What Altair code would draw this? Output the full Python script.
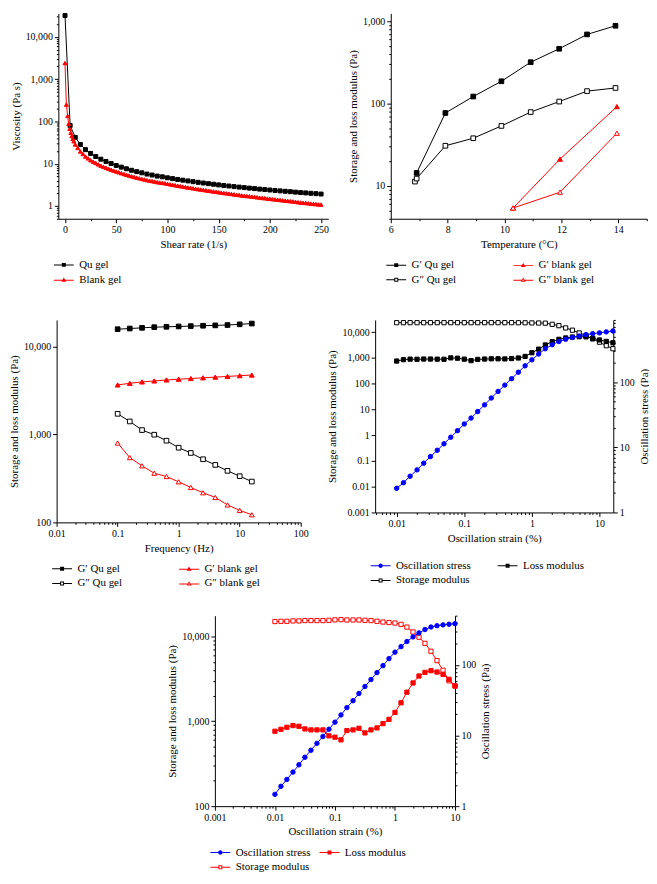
import altair as alt
import pandas as pd

FONT = "Liberation Serif"
BLACK = "#000000"
RED = "#ff0000"
BLUE = "#0000ff"

# ---------------- Panel A: viscosity vs shear rate ----------------
A_QU_RATE = [0, 5, 10, 15, 20, 25, 30, 35, 40, 45, 50, 55, 60, 65, 70, 75, 80, 85, 90, 95, 100,
             105, 110, 115, 120, 125, 130, 135, 140, 145, 150, 155, 160, 165, 170, 175, 180, 185,
             190, 195, 200, 205, 210, 215, 220, 225, 230, 235, 240, 245, 250]
A_QU_VISC = [32000, 80, 42, 28.5, 21.5, 17.5, 14.8, 12.8, 11.3, 10.1, 9.1, 8.3, 7.6, 7.0, 6.5, 6.1,
             5.7, 5.4, 5.1, 4.9, 4.65, 4.45, 4.25, 4.08, 3.92, 3.77, 3.63, 3.50, 3.38, 3.27, 3.16,
             3.06, 2.97, 2.88, 2.80, 2.72, 2.65, 2.58, 2.51, 2.45, 2.39, 2.33, 2.28, 2.23, 2.18,
             2.13, 2.08, 2.04, 2.00, 1.96, 1.92]
A_BLANK_RATE = [0, 1.3, 2.6, 3.6, 4.6, 5.6, 6.6, 7.6, 8.6, 10,
                12.5, 15, 17.5, 20, 22.5, 25, 27.5, 30, 32.5, 35, 37.5, 40, 42.5, 45, 47.5, 50,
                52.5, 55, 57.5, 60, 62.5, 65, 67.5, 70, 72.5, 75, 77.5, 80, 82.5, 85, 87.5, 90,
                92.5, 95, 97.5, 100, 102.5, 105, 107.5, 110, 112.5, 115, 117.5, 120, 122.5, 125,
                127.5, 130, 132.5, 135, 137.5, 140, 142.5, 145, 147.5, 150, 152.5, 155, 157.5, 160,
                162.5, 165, 167.5, 170, 172.5, 175, 177.5, 180, 182.5, 185, 187.5, 190, 192.5, 195,
                197.5, 200, 202.5, 205, 207.5, 210, 212.5, 215, 217.5, 220, 222.5, 225, 227.5, 230,
                232.5, 235, 237.5, 240, 242.5, 245, 247.5, 250]
A_BLANK_VISC = [2400, 250, 135, 88, 67, 54, 45, 39, 34, 28.6,
                23.6, 19.5, 17.0, 14.8, 13.4, 12.1, 11.2, 10.4, 9.65, 8.96, 8.48, 8.02, 7.61, 7.22,
                6.88, 6.55, 6.26, 5.98, 5.72, 5.47, 5.25, 5.04, 4.86, 4.68, 4.53, 4.39, 4.24, 4.10,
                3.99, 3.89, 3.78, 3.67, 3.60, 3.53, 3.44, 3.35, 3.26, 3.18, 3.10, 3.02, 2.95, 2.88,
                2.81, 2.74, 2.68, 2.62, 2.56, 2.50, 2.45, 2.40, 2.35, 2.30, 2.25, 2.21, 2.16, 2.12,
                2.07, 2.03, 1.99, 1.96, 1.92, 1.89, 1.85, 1.82, 1.78, 1.75, 1.72, 1.70, 1.67, 1.64,
                1.61, 1.58, 1.55, 1.53, 1.50, 1.48, 1.45, 1.43, 1.41, 1.39, 1.36, 1.34, 1.32, 1.30,
                1.28, 1.26, 1.23, 1.21, 1.19, 1.18, 1.16, 1.14, 1.12, 1.11, 1.09, 1.08]

# ---------------- Panel B: temperature sweep ----------------
B_GP_QU_T = [6.91, 7.92, 8.9, 9.89, 10.92, 11.92, 12.9, 13.9]
B_GP_QU = [14.4, 77, 122, 187, 319, 464, 693, 883]
B_GPP_QU_T = [6.85, 6.91, 7.92, 8.9, 9.89, 10.92, 11.92, 12.9, 13.9]
B_GPP_QU = [11.3, 12.3, 30.8, 38, 53.6, 79, 106, 142, 155]
B_BLANK_T = [10.3, 11.95, 13.95]
B_GP_BLANK = [5.4, 21.2, 92]
B_GPP_BLANK = [5.4, 8.4, 43.7]

# ---------------- Panel C: frequency sweep ----------------
C_FREQ = [0.1, 0.158, 0.251, 0.398, 0.631, 1, 1.58, 2.51, 3.98, 6.31, 10, 15.8]
C_GP_QU = [15700, 15980, 16270, 16560, 16720, 16870, 17030, 17190, 17350, 17510, 17840, 18200]
C_GP_BLANK = [3650, 3810, 3950, 4050, 4160, 4240, 4320, 4400, 4480, 4560, 4650, 4730]
C_GPP_QU = [1714, 1404, 1120, 992, 848, 706, 615, 522, 450, 385, 335, 291]
C_GPP_BLANK = [798, 545, 439, 362, 332, 289, 249, 217, 192, 158, 137, 122]

# ---------------- Panel D: amplitude sweep, Qu gel ----------------
D_STRAIN = [0.01, 0.0126, 0.0158, 0.02, 0.0251, 0.0316, 0.0398, 0.0501, 0.0631, 0.0794, 0.1,
            0.126, 0.158, 0.2, 0.251, 0.316, 0.398, 0.501, 0.631, 0.794, 1, 1.26, 1.58, 2, 2.51,
            3.16, 3.98, 5.01, 6.31, 7.94, 10, 12.6, 15.8]
D_STRESS = [2.35, 2.86, 3.6, 4.5, 5.7, 7.2, 9.0, 11.3, 14.3, 18.0, 22.8, 28.1, 35.4, 44.8, 57, 72,
            90, 113, 142, 178, 220, 270, 325, 375, 420, 455, 485, 510, 535, 555, 570, 590, 610]
D_STORAGE = [23500, 23500, 23500, 23500, 23500, 23500, 23500, 23500, 23500, 23500, 23500, 23500,
             23500, 23500, 23500, 23500, 23500, 23500, 23400, 23300, 23000, 22800, 22500, 20300,
             18000, 14700, 12000, 9400, 7500, 5500, 4100, 3000, 2300]
D_LOSS = [760, 860, 900, 890, 910, 910, 900, 890, 1010, 980, 900, 790, 880, 910, 930, 930, 920,
          950, 1000, 1150, 1600, 2200, 3200, 4300, 5300, 6000, 6500, 6700, 6600, 5800, 5000, 4400,
          3900]

# ---------------- Panel E: amplitude sweep, blank gel ----------------
E_STRAIN = [0.01, 0.0126, 0.0158, 0.02, 0.0251, 0.0316, 0.0398, 0.0501, 0.0631, 0.0794, 0.1,
            0.126, 0.158, 0.2, 0.251, 0.316, 0.398, 0.501, 0.631, 0.794, 1, 1.26, 1.58, 2, 2.51,
            3.16, 3.98, 5.01, 6.31, 7.94, 10]
E_STRESS = [1.47, 1.91, 2.39, 3.04, 3.85, 4.93, 6.19, 7.76, 9.73, 12.3, 15.5, 19.6, 24.9, 31.2,
            39.5, 49.6, 62.2, 78.0, 97.9, 123, 152, 182, 215, 250, 285, 318, 345, 360, 370, 378, 385]
E_STORAGE = [15000, 15100, 15100, 15250, 15250, 15400, 15400, 15400, 15400, 15500, 15700, 15800,
             15650, 15650, 15650, 15500, 15400, 15100, 14800, 14600, 14400, 13900, 12900, 11300,
             9800, 8300, 6700, 5200, 4000, 3000, 2600]
E_LOSS = [764, 806, 851, 890, 874, 813, 792, 792, 792, 674, 650, 605, 778, 792, 828, 730, 792,
          836, 939, 1055, 1274, 1653, 2204, 2833, 3421, 3776, 3950, 3808, 3577, 3128, 2615]

# ---------------- legend symbol paths (line + marker) ----------------
STUB_SQ = "M-2,-0.1H-0.4V0.1H-2Z M0.4,-0.1H2V0.1H0.4Z "
SQ_F = STUB_SQ + "M-0.4,-0.4H0.4V0.4H-0.4Z"
SQ_O = SQ_F + " M-0.2,-0.2V0.2H0.2V-0.2Z"
STUB_TRI = "M-2,0H-0.3V0.2H-2Z M0.3,0H2V0.2H0.3Z "
TRI_F = STUB_TRI + "M0,-0.45L0.5,0.4H-0.5Z"
TRI_O = TRI_F + " M0,-0.095L-0.185,0.22H0.185Z"
CIRC = ("M-2,-0.1H-0.45V0.1H-2Z M0.45,-0.1H2V0.1H0.45Z "
        "M0.45,0A0.45,0.45 0 1 1 -0.45,0A0.45,0.45 0 1 1 0.45,0Z")

LOG_MAJOR = "abs(log(datum.value) / LN10 - round(log(datum.value) / LN10)) < 0.001"


def log_ticks(lo, hi):
    out = []
    for e in range(-4, 6):
        for m in range(1, 10):
            v = round(m * 10 ** e, 6)
            if lo * 0.999 <= v <= hi * 1.001:
                out.append(v)
    return out


def axis(title, values, major, orient=None, angle=None, baseline=None, fmt=","):
    kw = dict(title=title, values=values, format=fmt,
              labelExpr=f"({major}) ? datum.label : ''",
              tickSize={"condition": {"test": f"!({major})", "value": 2}, "value": 4},
              labelOverlap=False, labelFlush=False)
    if orient:
        kw["orient"] = orient
    if angle is not None:
        kw["titleAngle"] = angle
    if baseline:
        kw["titleBaseline"] = baseline
    return alt.Axis(**kw)


def series(xs, ys, color, shape, filled, size, xenc, yenc):
    df = pd.DataFrame({"x": xs, "y": ys})
    return alt.Chart(df).mark_line(
        color=color, strokeWidth=1,
        point=alt.OverlayMarkDef(shape=shape, size=size, filled=True,
                                 fill=color if filled else "white",
                                 stroke=color, strokeWidth=1),
    ).encode(x=xenc, y=yenc)


def legend_layer(names, colors, paths, columns, col_pad, offset):
    leg = alt.Legend(title=None, orient="bottom", direction="horizontal", columns=columns,
                     columnPadding=col_pad, rowPadding=3, symbolSize=100, symbolStrokeWidth=0,
                     symbolOpacity=1, labelFont=FONT, labelFontSize=11, labelOffset=10,
                     labelColor="black", offset=offset, labelLimit=300)
    df = pd.DataFrame({"series": names})
    return alt.Chart(df).mark_point(filled=True, opacity=0).encode(
        color=alt.Color("series:N", scale=alt.Scale(domain=names, range=colors), legend=leg),
        shape=alt.Shape("series:N", scale=alt.Scale(domain=names, range=paths), legend=leg),
    )


def xy(xscale, xaxis, yscale, yaxis):
    return (alt.X("x:Q", scale=xscale, axis=xaxis), alt.Y("y:Q", scale=yscale, axis=yaxis))


# ---------------- Panel A ----------------
ax_sc = alt.Scale(domain=[-6.5, 257], nice=False, zero=False)
ay_sc = alt.Scale(type="log", domain=[0.5, 36000], nice=False)
ax_ax = axis("Shear rate (1/s)", list(range(0, 251, 25)), "datum.value % 50 == 0", fmt="d")
ay_ax = axis("Viscosity (Pa s)", log_ticks(0.5, 36000), LOG_MAJOR)
xa, ya = xy(ax_sc, ax_ax, ay_sc, ay_ax)
panel_a = alt.layer(
    series(A_QU_RATE, A_QU_VISC, BLACK, "square", True, 16, xa, ya),
    series(A_BLANK_RATE, A_BLANK_VISC, RED, "triangle-up", True, 16, xa, ya),
    legend_layer(["Qu gel", "Blank gel"], [BLACK, RED], [SQ_F, TRI_F], 1, 10, 10),
).properties(width=272, height=207)

# ---------------- Panel B ----------------
bx_sc = alt.Scale(domain=[6, 15], nice=False, zero=False)
by_sc = alt.Scale(type="log", domain=[4, 1250], nice=False)
bx_ax = axis("Temperature (°C)", list(range(6, 16)), "datum.value % 2 == 0", fmt="d")
by_ax = axis("Storage and loss modulus  (Pa)", log_ticks(4, 1250), LOG_MAJOR)
xb, yb = xy(bx_sc, bx_ax, by_sc, by_ax)
b_names = ["G′ Qu gel", "G′ blank gel", "G″ Qu gel", "G″ blank gel"]
panel_b = alt.layer(
    series(B_GPP_QU_T, B_GPP_QU, BLACK, "square", False, 22, xb, yb),
    series(B_GP_QU_T, B_GP_QU, BLACK, "square", True, 22, xb, yb),
    series(B_BLANK_T, B_GP_BLANK, RED, "triangle-up", True, 24, xb, yb),
    series(B_BLANK_T, B_GPP_BLANK, RED, "triangle-up", False, 24, xb, yb),
    legend_layer(b_names, [BLACK, RED, BLACK, RED], [SQ_F, TRI_F, SQ_O, TRI_O], 2, 57, 10),
).properties(width=258, height=207)

# ---------------- Panel C ----------------
cx_sc = alt.Scale(type="log", domain=[0.01, 100], nice=False)
cy_sc = alt.Scale(type="log", domain=[100, 20000], nice=False)
cx_ax = axis("Frequency (Hz)", log_ticks(0.01, 100), LOG_MAJOR)
cy_ax = axis("Storage and loss modulus (Pa)", [100, 1000, 10000], LOG_MAJOR)
xc, yc = xy(cx_sc, cx_ax, cy_sc, cy_ax)
panel_c = alt.layer(
    series(C_FREQ, C_GP_QU, BLACK, "square", True, 22, xc, yc),
    series(C_FREQ, C_GPP_QU, BLACK, "square", False, 22, xc, yc),
    series(C_FREQ, C_GP_BLANK, RED, "triangle-up", True, 24, xc, yc),
    series(C_FREQ, C_GPP_BLANK, RED, "triangle-up", False, 24, xc, yc),
    legend_layer(b_names, [BLACK, RED, BLACK, RED], [SQ_F, TRI_F, SQ_O, TRI_O], 2, 57, 10),
).properties(width=246, height=204)

# ---------------- Panel D ----------------
dx_sc = alt.Scale(type="log", domain=[0.0048, 16], nice=False)
dyl_sc = alt.Scale(type="log", domain=[0.001, 30000], nice=False)
dyr_sc = alt.Scale(type="log", domain=[1, 900], nice=False)
dx_ax = axis("Oscillation strain (%)", log_ticks(0.0048, 16), LOG_MAJOR)
dyl_ax = axis("Storage and loss modulus (Pa)", [0.001, 0.01, 0.1, 1, 10, 100, 1000, 10000], LOG_MAJOR)
dyr_ax = axis("Oscillation stress (Pa)", log_ticks(1, 900), LOG_MAJOR, orient="right",
              angle=270, baseline="top")
xd, ydl = xy(dx_sc, dx_ax, dyl_sc, dyl_ax)
_, ydr = xy(dx_sc, dx_ax, dyr_sc, dyr_ax)
d_names = ["Oscillation stress", "Loss modulus", "Storage modulus"]
d_left = alt.layer(
    series(D_STRAIN, D_STORAGE, BLACK, "square", False, 18, xd, ydl),
    series(D_STRAIN, D_LOSS, BLACK, "square", True, 18, xd, ydl),
    legend_layer(d_names, [BLUE, BLACK, BLACK], [CIRC, SQ_F, SQ_O], 2, 26, 17),
)
d_right = series(D_STRAIN, D_STRESS, BLUE, "circle", True, 20, xd, ydr)
panel_d = alt.layer(d_left, d_right).resolve_scale(y="independent").properties(
    width=240, height=194,
    title=alt.TitleParams(" ", fontSize=2, offset=6),
)

# ---------------- Panel E ----------------
ex_sc = alt.Scale(type="log", domain=[0.001, 10], nice=False)
eyl_sc = alt.Scale(type="log", domain=[100, 17600], nice=False)
eyr_sc = alt.Scale(type="log", domain=[1, 500], nice=False)
ex_ax = axis("Oscillation strain (%)", log_ticks(0.001, 10), LOG_MAJOR)
eyl_ax = axis("Storage and loss modulus (Pa)", log_ticks(100, 17600), LOG_MAJOR)
eyr_ax = axis("Oscillation stress (Pa)", log_ticks(1, 500), LOG_MAJOR, orient="right",
              angle=270, baseline="top")
xe, yel = xy(ex_sc, ex_ax, eyl_sc, eyl_ax)
_, yer = xy(ex_sc, ex_ax, eyr_sc, eyr_ax)
e_left = alt.layer(
    series(E_STRAIN, E_STORAGE, RED, "square", False, 18, xe, yel),
    series(E_STRAIN, E_LOSS, RED, "square", True, 18, xe, yel),
    legend_layer(d_names, [BLUE, RED, RED], [CIRC, SQ_F, SQ_O], 2, 8, 10),
)
e_right = series(E_STRAIN, E_STRESS, BLUE, "circle", True, 20, xe, yer)
panel_e = alt.layer(e_left, e_right).resolve_scale(y="independent").properties(width=242, height=192)

IND = dict(color="independent", shape="independent")
row1 = alt.hconcat(panel_a, panel_b, spacing=18).resolve_scale(**IND)
row2 = alt.hconcat(panel_c, panel_d, spacing=18).resolve_scale(**IND)
chart = alt.vconcat(row1, row2, panel_e, spacing=22, center=True).resolve_scale(**IND).properties(
    padding={"left": 0, "top": 0, "right": 0, "bottom": 0}
).configure_axis(
    labelFont=FONT, titleFont=FONT, labelFontSize=10, titleFontSize=11,
    titleFontWeight="normal", labelColor="black", titleColor="black",
    domainColor="black", tickColor="black", grid=False, labelPadding=2,
    titlePadding=4, domainWidth=1, tickWidth=1,
).configure_view(stroke=None)

chart.save("out.html", embed_options={"renderer": "svg", "actions": False})
